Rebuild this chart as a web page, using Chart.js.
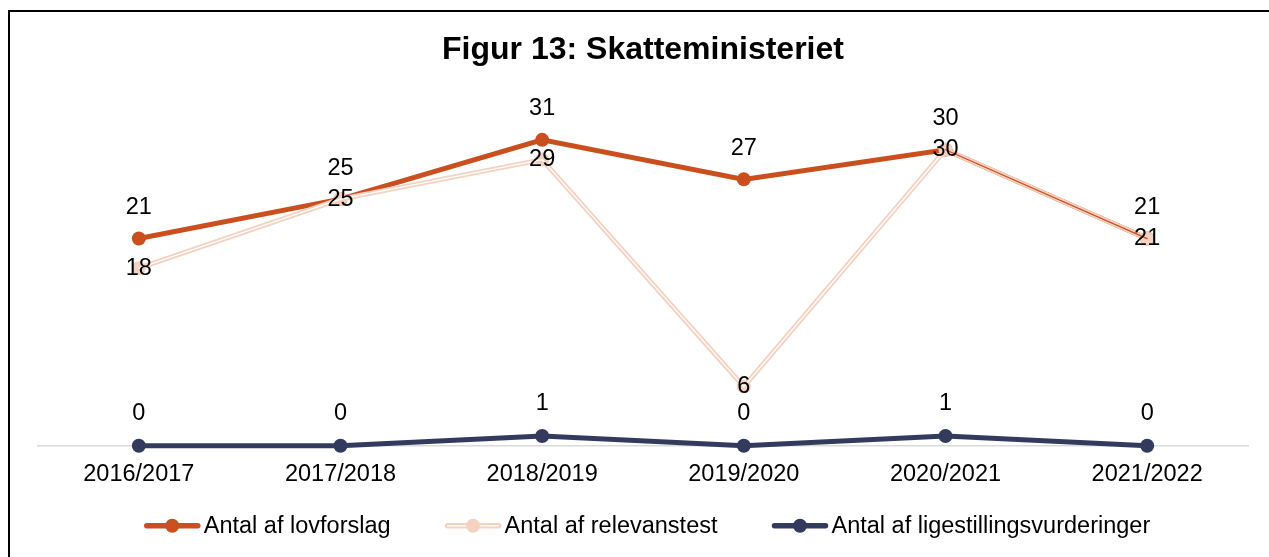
<!DOCTYPE html>
<html>
<head>
<meta charset="utf-8">
<script src="https://cdn.jsdelivr.net/npm/chart.js@4"></script>
<style>
  html, body { margin: 0; padding: 0; background: #fff; overflow: hidden; }
  #wrap { position: absolute; left: 0; top: 0; width: 1269px; height: 557px; }
  #frame { position: absolute; left: 8px; top: 10px; width: 1300px; height: 600px;
           border-left: 2px solid #000; border-top: 2px solid #000; pointer-events: none; }
</style>
</head>
<body>
<div id="wrap"><canvas id="c" width="1269" height="557"></canvas></div>
<div id="frame"></div>
<script>
const titleText = "Figur 13: Skatteministeriet";
const categories = ["2016/2017", "2017/2018", "2018/2019", "2019/2020", "2020/2021", "2021/2022"];
const seriesNames = ["Antal af lovforslag", "Antal af relevanstest", "Antal af ligestillingsvurderinger"];
const lovforslag = [21, 25, 31, 27, 30, 21];
const relevanstest = [18, 25, 29, 6, 30, 21];
const ligestilling = [0, 0, 1, 0, 1, 0];

const ORANGE = "#C9501E", PEACH = "#F4D2C2", NAVY = "#323B5E";
const FONT = "'Liberation Sans', Arial, sans-serif";
const TXT = 23.5;

// data labels: offset in px relative to point (negative = above)
const labelOffsets = [-31, 0, -32];

const dataLabelPlugin = {
  id: "dataLabels",
  afterDatasetsDraw(chart) {
    const ctx = chart.ctx;
    ctx.save();
    ctx.font = TXT + "px " + FONT;
    ctx.fillStyle = "#000";
    ctx.textAlign = "center";
    ctx.textBaseline = "middle";
    chart.data.datasets.forEach((ds, i) => {
      const meta = chart.getDatasetMeta(i);
      meta.data.forEach((pt, j) => {
        ctx.fillText(String(ds.data[j]), pt.x, pt.y + labelOffsets[i]);
      });
    });
    ctx.restore();
  }
};

// double-line effect on the relevanstest series
const doubleLinePlugin = {
  id: "doubleLine",
  afterDatasetDraw(chart, args) {
    if (args.index !== 1) return;
    const meta = chart.getDatasetMeta(1);
    const pts = meta.data;
    const ctx = chart.ctx;
    ctx.save();
    ctx.lineWidth = 1.3;
    ctx.lineCap = "round";
    for (let j = 0; j < pts.length - 1; j++) {
      const same = relevanstest[j] === lovforslag[j] && relevanstest[j + 1] === lovforslag[j + 1];
      ctx.strokeStyle = same ? ORANGE : "#ffffff";
      ctx.beginPath();
      ctx.moveTo(pts[j].x, pts[j].y);
      ctx.lineTo(pts[j + 1].x, pts[j + 1].y);
      ctx.stroke();
    }
    ctx.restore();
  }
};

const colors = [ORANGE, PEACH, NAVY];

const legendPlugin = {
  id: "customLegend",
  afterDraw(chart) {
    const ctx = chart.ctx;
    ctx.save();
    ctx.font = TXT + "px " + FONT;
    const lineW = 57, gapText = 3, gapItem = 54;
    const widths = seriesNames.map(n => lineW + gapText + ctx.measureText(n).width);
    const total = widths.reduce((a, b) => a + b, 0) + gapItem * (widths.length - 1);
    const cx = 647;
    let x = cx - total / 2;
    const y = chart.chartArea.bottom + 80;
    seriesNames.forEach((n, i) => {
      ctx.strokeStyle = colors[i];
      ctx.lineWidth = 5.5;
      ctx.lineCap = "round";
      ctx.beginPath();
      ctx.moveTo(x + 3, y);
      ctx.lineTo(x + lineW - 3, y);
      ctx.stroke();
      if (i === 1) {
        ctx.strokeStyle = "#fff";
        ctx.lineWidth = 1.3;
        ctx.beginPath();
        ctx.moveTo(x + 3, y);
        ctx.lineTo(x + lineW - 3, y);
        ctx.stroke();
      }
      ctx.fillStyle = colors[i];
      ctx.beginPath();
      ctx.arc(x + lineW / 2, y, 7, 0, Math.PI * 2);
      ctx.fill();
      ctx.fillStyle = "#000";
      ctx.textAlign = "left";
      ctx.textBaseline = "middle";
      ctx.fillText(n, x + lineW + gapText, y + 1);
      x += widths[i] + gapItem;
    });
    ctx.restore();
  }
};

new Chart(document.getElementById("c"), {
  type: "line",
  data: {
    labels: categories,
    datasets: [
      { label: seriesNames[0], data: lovforslag, borderColor: ORANGE, backgroundColor: ORANGE,
        borderWidth: 5, pointRadius: 7, pointHoverRadius: 7, pointBorderWidth: 0, order: 2, clip: false },
      { label: seriesNames[1], data: relevanstest, borderColor: PEACH, backgroundColor: PEACH,
        borderWidth: 5, pointRadius: 7, pointHoverRadius: 7, pointBorderWidth: 0, order: 1, clip: false },
      { label: seriesNames[2], data: ligestilling, borderColor: NAVY, backgroundColor: NAVY,
        borderWidth: 5, pointRadius: 7, pointHoverRadius: 7, pointBorderWidth: 0, order: 0, clip: false }
    ]
  },
  options: {
    responsive: false,
    animation: false,
    layout: { padding: { left: 38, right: 21, top: 10, bottom: 53 } },
    plugins: {
      legend: { display: false },
      tooltip: { enabled: false },
      title: {
        display: true, text: titleText, color: "#000",
        font: { family: FONT, size: 32, weight: "bold", lineHeight: 1.2 },
        padding: { top: 21, bottom: 31 }
      }
    },
    scales: {
      x: {
        offset: true,
        grid: { display: false, drawTicks: false },
        border: { display: true, color: "#D9D9D9", width: 1.5 },
        ticks: { color: "#000", font: { family: FONT, size: TXT }, padding: 15 }
      },
      y: { display: false, min: 0, max: 35 }
    }
  },
  plugins: [dataLabelPlugin, doubleLinePlugin, legendPlugin]
});
</script>
</body>
</html>
